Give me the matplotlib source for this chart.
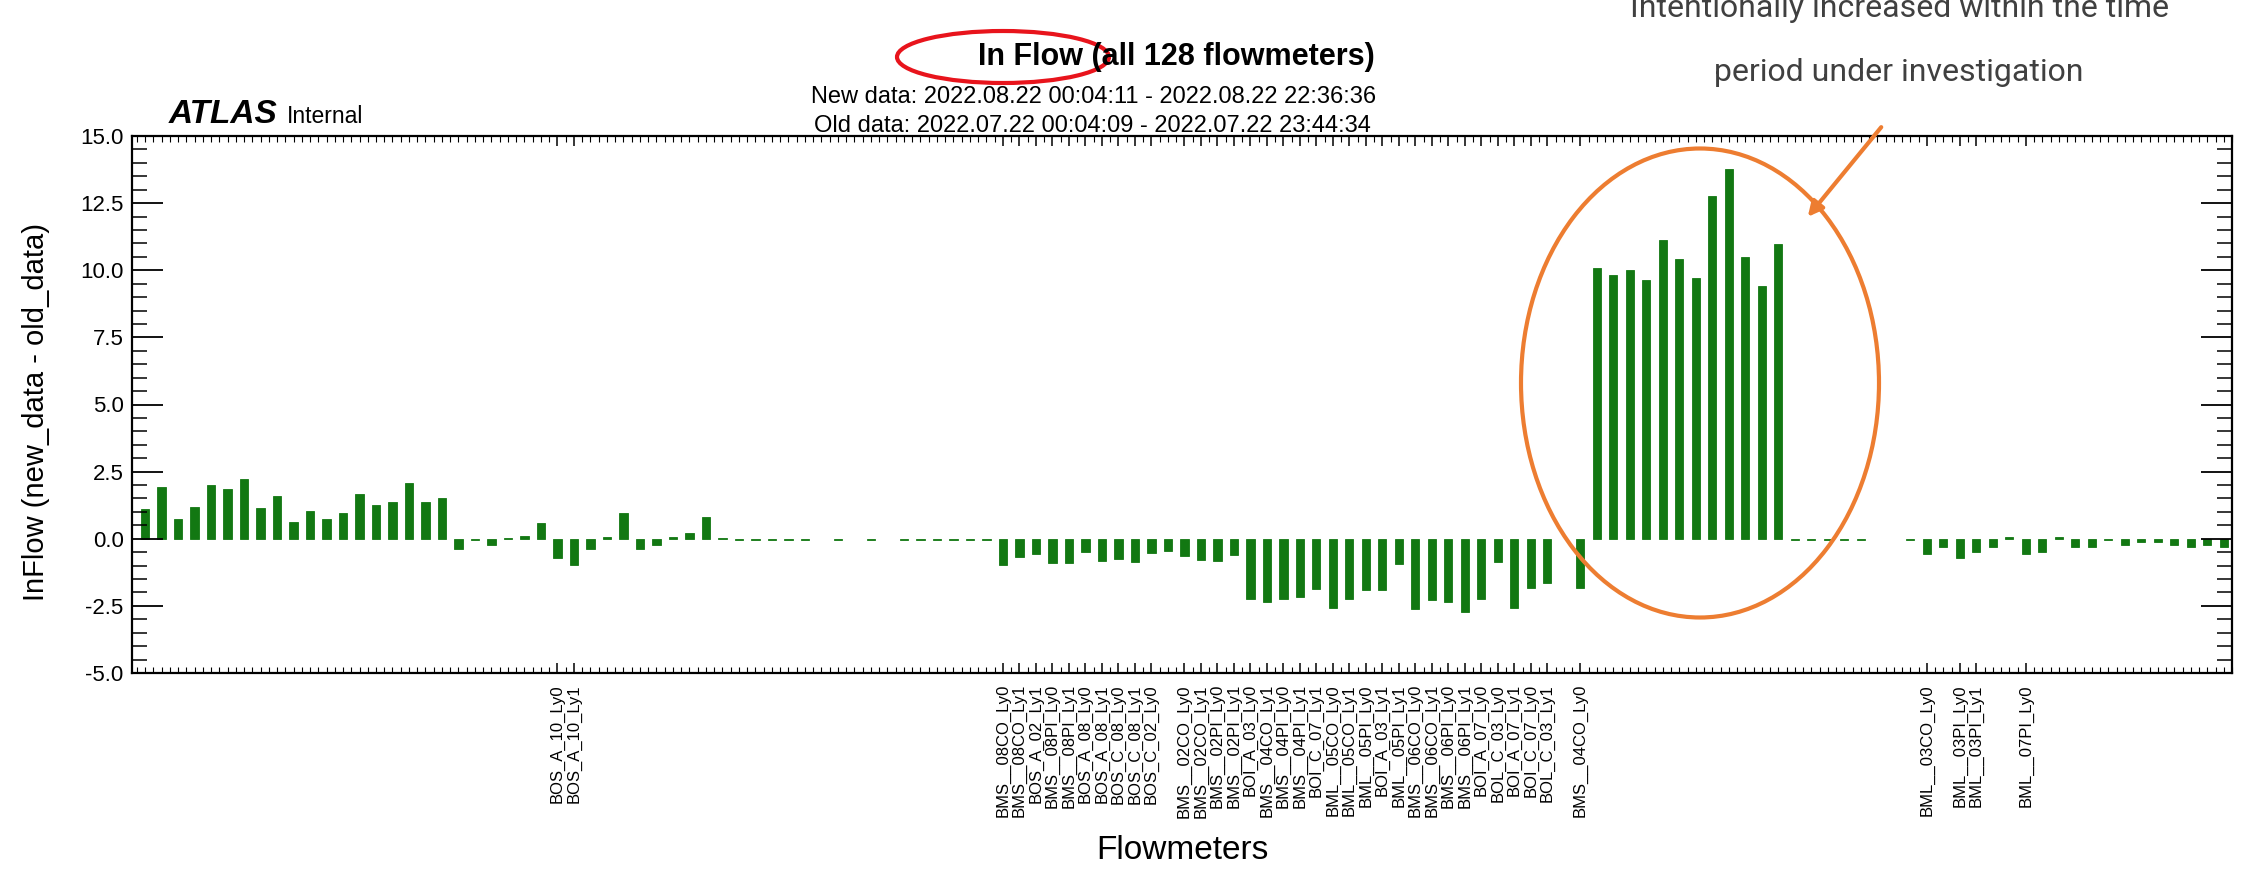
import numpy as np
import matplotlib
matplotlib.use('Agg')
import matplotlib.pyplot as plt
from matplotlib.patches import Ellipse, FancyArrowPatch
from matplotlib.ticker import MultipleLocator

plt.rcParams['font.family'] = ['Liberation Sans', 'DejaVu Sans']

# InFlow difference (new - old) per flowmeter slot, None = nothing drawn
inflow_diff = [
    1.09, 1.92, 0.75, 1.19, 2.01, 1.85, 2.22, 1.16, 1.60, 0.63,
    1.03, 0.75, 0.97, 1.66, 1.26, 1.38, 2.07, 1.38, 1.51, -0.40,
    -0.06, -0.23, 0.03, 0.12, 0.57, -0.73, -0.98, -0.40, 0.07, 0.96,
    -0.40, -0.22, 0.06, 0.20, 0.80, 0.02, -0.06, -0.06, -0.06, -0.06,
    -0.06, None, -0.04, None, -0.06, None, -0.06, -0.06, -0.06, -0.06,
    -0.05, -0.05, -0.97, -0.69, -0.57, -0.92, -0.92, -0.48, -0.83, -0.74,
    -0.85, -0.54, -0.44, -0.63, -0.78, -0.84, -0.62, -2.24, -2.36, -2.24,
    -2.16, -1.88, -2.58, -2.24, -1.92, -1.92, -0.94, -2.61, -2.29, -2.36,
    -2.73, -2.24, -0.88, -2.58, -1.82, -1.63, None, -1.82, 10.07, 9.84,
    10.02, 9.62, 11.13, 10.42, 9.71, 12.77, 13.76, 10.48, 9.41, 10.97,
    -0.05, -0.05, -0.05, -0.05, -0.05, None, None, -0.03, -0.56, -0.31,
    -0.73, -0.50, -0.31, 0.08, -0.57, -0.48, 0.08, -0.31, -0.31, -0.03,
    -0.23, -0.12, -0.12, -0.25, -0.31, -0.25, -0.30,
]

# labelled flowmeters (slot index, name)
label_slots = [25, 26,
               52, 53, 54, 55, 56, 57, 58, 59, 60, 61,
               63, 64, 65, 66, 67, 68, 69, 70, 71, 72, 73, 74, 75, 76,
               77, 78, 79, 80, 81, 82, 83, 84, 85,
               87, 108, 110, 111, 114]
label_names = ['BOS_A_10_Ly0', 'BOS_A_10_Ly1',
               'BMS__08CO_Ly0', 'BMS__08CO_Ly1', 'BOS_A_02_Ly1', 'BMS__08PI_Ly0',
               'BMS__08PI_Ly1', 'BOS_A_08_Ly0', 'BOS_A_08_Ly1', 'BOS_C_08_Ly0',
               'BOS_C_08_Ly1', 'BOS_C_02_Ly0',
               'BMS__02CO_Ly0', 'BMS__02CO_Ly1', 'BMS__02PI_Ly0', 'BMS__02PI_Ly1',
               'BOI_A_03_Ly0', 'BMS__04CO_Ly1', 'BMS__04PI_Ly0', 'BMS__04PI_Ly1',
               'BOI_C_07_Ly1', 'BML__05CO_Ly0', 'BML__05CO_Ly1', 'BML__05PI_Ly0',
               'BOI_A_03_Ly1', 'BML__05PI_Ly1', 'BMS__06CO_Ly0', 'BMS__06CO_Ly1',
               'BMS__06PI_Ly0', 'BMS__06PI_Ly1', 'BOI_A_07_Ly0', 'BOL_C_03_Ly0',
               'BOI_A_07_Ly1', 'BOI_C_07_Ly0', 'BOL_C_03_Ly1',
               'BMS__04CO_Ly0', 'BML__03CO_Ly0', 'BML__03PI_Ly0', 'BML__03PI_Ly1',
               'BML__07PI_Ly0']

title = 'In Flow (all 128 flowmeters)'
new_range = 'New data: 2022.08.22 00:04:11 - 2022.08.22 22:36:36'
old_range = 'Old data: 2022.07.22 00:04:09 - 2022.07.22 23:44:34'

W, H = 2244, 893


def fx(x):
    return x / W


def fy(y):
    return 1 - y / H


fig = plt.figure(figsize=(W / 100, H / 100), dpi=100)
ax = fig.add_axes([fx(132), fy(673), (2232 - 132) / W, (673 - 136) / H])

xs = [i for i, v in enumerate(inflow_diff) if v is not None]
vals = [v for v in inflow_diff if v is not None]
ax.bar(xs, vals, width=0.5, color='#127812', edgecolor='#127812', linewidth=0.6)

ax.set_xlim(-0.79, 126.2)
ax.set_ylim(-5, 15)
ax.yaxis.set_major_locator(MultipleLocator(2.5))
ax.yaxis.set_minor_locator(MultipleLocator(0.5))
ax.yaxis.set_major_formatter(matplotlib.ticker.FormatStrFormatter('%.1f'))
ax.set_xticks(label_slots, label_names, rotation=90, fontsize=12)
ax.set_xticks(np.arange(-0.5, 127, 0.5), minor=True)
ax.tick_params(axis='y', which='major', direction='in', length=22, width=1.3,
               left=True, right=True, labelsize=16, pad=6)
ax.tick_params(axis='y', which='minor', direction='in', length=11, width=1.1,
               left=True, right=True)
ax.tick_params(axis='x', which='major', direction='in', length=7, width=1.1,
               top=True, bottom=True, pad=8)
ax.tick_params(axis='x', which='minor', direction='in', length=4, width=0.8,
               top=True, bottom=True)
for s in ax.spines.values():
    s.set_linewidth(1.6)

ax.set_ylabel('InFlow (new_data - old_data)', fontsize=21)
ax.yaxis.set_label_coords(-0.039, 0.486)
ax.set_xlabel('Flowmeters', fontsize=24)
ax.xaxis.set_label_coords(0.5, -0.302)

# header texts
fig.text(fx(1176), fy(57), title, ha='center', va='center', fontsize=22, fontweight='bold')
fig.text(fx(1094), fy(97), new_range, ha='center', va='center', fontsize=17)
fig.text(fx(1092), fy(126), old_range, ha='center', va='center', fontsize=17)
fig.text(fx(169), fy(123), 'ATLAS', ha='left', va='baseline', fontsize=24,
         fontweight='bold', fontstyle='italic')
fig.text(fx(287), fy(123), 'Internal', ha='left', va='baseline', fontsize=16.5)

# annotation overlays
note_font = ['Roboto', 'DejaVu Sans']
fig.text(fx(1899), fy(17), 'Intentionally increased within the time', ha='center',
         va='baseline', fontsize=23, color='#404040', family=note_font)
fig.text(fx(1899), fy(81), 'period under investigation', ha='center',
         va='baseline', fontsize=23, color='#404040', family=note_font)
fig.add_artist(Ellipse((fx(1003), fy(57)), 212 / W, 52 / H, transform=fig.transFigure,
                       fill=False, edgecolor='#e8141c', lw=3))
fig.add_artist(Ellipse((fx(1700), fy(383)), 358 / W, 469 / H, transform=fig.transFigure,
                       fill=False, edgecolor='#ed7d31', lw=3))
fig.add_artist(FancyArrowPatch((fx(1883), fy(125)), (fx(1806), fy(219)),
                               transform=fig.transFigure, arrowstyle='-|>',
                               mutation_scale=22, color='#ed7d31', lw=3))

fig.savefig('out.png', dpi=100)
